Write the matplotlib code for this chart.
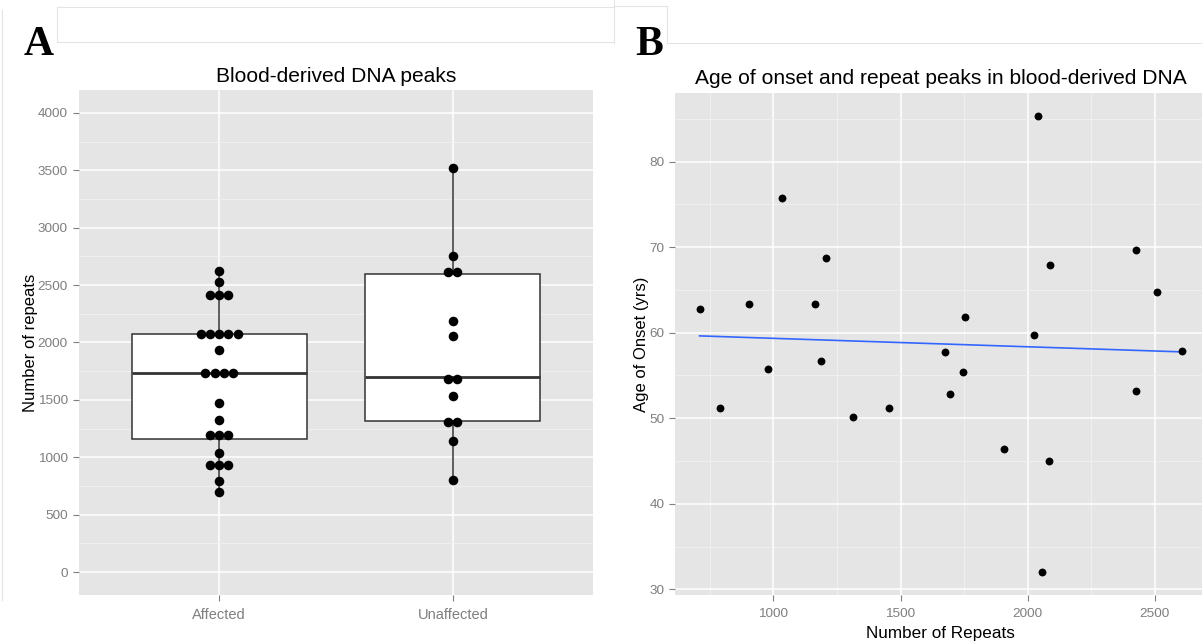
import matplotlib.pyplot as plt
import numpy as np

plt.rcParams['font.family'] = ['Liberation Sans', 'DejaVu Sans']

# Panel A: repeat peaks per group
groups = ['Affected', 'Unaffected']
affected = [700, 795, 933, 933, 933, 1035, 1150, 1190, 1230, 1327, 1474,
            1731, 1731, 1731, 1731, 1933, 2076, 2076, 2076, 2076, 2076,
            2412, 2412, 2412, 2526, 2626]
unaffected = [801, 1138, 1290, 1320, 1532, 1660, 1700, 2054, 2190,
              2600, 2622, 2758, 3520]

# Panel B: repeats vs age of onset
repeats = [710, 792, 904, 978, 1033, 1162, 1187, 1207, 1312, 1456, 1676, 1695,
           1746, 1755, 1907, 2026, 2042, 2055, 2085, 2087, 2427, 2427, 2510, 2606]
onset = [62.8, 51.2, 63.4, 55.8, 75.7, 63.4, 56.7, 68.7, 50.1, 51.2, 57.7, 52.8,
         55.4, 61.8, 46.4, 59.7, 85.4, 32.0, 45.0, 67.9, 53.2, 69.7, 64.8, 57.9]

W, H = 1202, 643
fig = plt.figure(figsize=(W / 100, H / 100), dpi=100)


def px_axes(l, t, r, b):
    return fig.add_axes([l / W, 1 - b / H, (r - l) / W, (b - t) / H])


def gg_style(ax):
    ax.set_facecolor('#E5E5E5')
    for s in ax.spines.values():
        s.set_visible(False)
    ax.grid(which='major', color='white', linewidth=1.1, zorder=0)
    ax.grid(which='minor', color='#F2F2F2', linewidth=0.6, zorder=0)
    ax.set_axisbelow(True)
    ax.tick_params(which='major', length=4.5, width=0.8, color='#7F7F7F',
                   labelcolor='#7F7F7F', labelsize=9.7, pad=3.5)
    ax.tick_params(which='minor', length=0)


def dot_bins(values, width):
    # greedy binning like ggplot's dotdensity
    vals = np.sort(np.asarray(values, float))
    bins = []
    i = 0
    while i < len(vals):
        j = i
        while j < len(vals) and vals[j] < vals[i] + width:
            j += 1
        chunk = vals[i:j]
        bins.append(((chunk.min() + chunk.max()) / 2, len(chunk)))
        i = j
    return bins


# ---- Panel A ----
axA = px_axes(79, 90, 593, 595)
gg_style(axA)

bp = axA.boxplot([affected, unaffected], positions=[1, 2], widths=0.75,
                 whis=1.5, showfliers=False, patch_artist=True,
                 boxprops=dict(facecolor='white', edgecolor='#333333', linewidth=1.1),
                 medianprops=dict(color='#333333', linewidth=2.0),
                 whiskerprops=dict(color='#333333', linewidth=1.1),
                 capprops=dict(linewidth=0), zorder=2)

axA.set_xlim(0.4, 2.6)
axA.set_ylim(-200, 4200)
axA.set_xticks([1, 2])
axA.set_xticklabels(groups)
axA.set_yticks(np.arange(0, 4001, 500))
axA.set_yticks(np.arange(250, 4000, 500), minor=True)
axA.tick_params(axis='x', pad=5, labelsize=10.5)

px_per_x = (593 - 79) / 2.2
dot_px = 9.6
step = 9.3 / px_per_x
for pos, vals in zip([1, 2], [affected, unaffected]):
    for centre, k in dot_bins(vals, 90):
        xs = pos + (np.arange(k) - (k - 1) / 2) * step
        axA.scatter(xs, [centre] * k, s=(dot_px * 0.72) ** 2, color='black',
                    linewidths=0, zorder=3)

axA.set_title('Blood-derived DNA peaks', fontsize=15.1, pad=6)
axA.set_ylabel('Number of repeats', fontsize=12, labelpad=0)

# ---- Panel B ----
axB = px_axes(675.5, 92.7, 1206, 595)
gg_style(axB)
axB.scatter(repeats, onset, s=32, color='black', linewidths=0, zorder=3)
slope, icept = np.polyfit(repeats, onset, 1)
xl = np.array([min(repeats), max(repeats)])
axB.plot(xl, icept + slope * xl, color='#3366FF', linewidth=1.2, zorder=2)
axB.margins(x=0.05, y=0.05)
axB.set_xticks([1000, 1500, 2000, 2500])
axB.set_xticks([750, 1250, 1750, 2250], minor=True)
axB.set_yticks([30, 40, 50, 60, 70, 80])
axB.set_yticks([35, 45, 55, 65, 75, 85], minor=True)
axB.tick_params(axis='x', pad=5)

axB.set_title('Age of onset and repeat peaks in blood-derived DNA',
              fontsize=15.1, pad=6)
axB.set_xlabel('Number of Repeats', fontsize=12.3, labelpad=4)
axB.set_ylabel('Age of Onset (yrs)', fontsize=12, labelpad=0)

# panel letters and the faint frames around them
fig.text(39 / W, 1 - 45 / H, 'A', family='Liberation Serif', weight='bold',
         fontsize=30, ha='center', va='center')
fig.text(649 / W, 1 - 45 / H, 'B', family='Liberation Serif', weight='bold',
         fontsize=30, ha='center', va='center')

frame = dict(color='#E4E4E4', linewidth=0.8, transform=fig.transFigure)
def seg(x0, y0, x1, y1):
    fig.add_artist(plt.Line2D([x0 / W, x1 / W], [1 - y0 / H, 1 - y1 / H], **frame))

seg(57, 7, 614, 7)
seg(57, 7, 57, 42)
seg(57, 42, 614, 42)
seg(2, 10, 2, 600)
seg(614, 0, 614, 43)
seg(614, 6, 667, 6)
seg(667, 6, 667, 43)
seg(667, 43, 1202, 43)

plt.savefig('out.png', dpi=100)
